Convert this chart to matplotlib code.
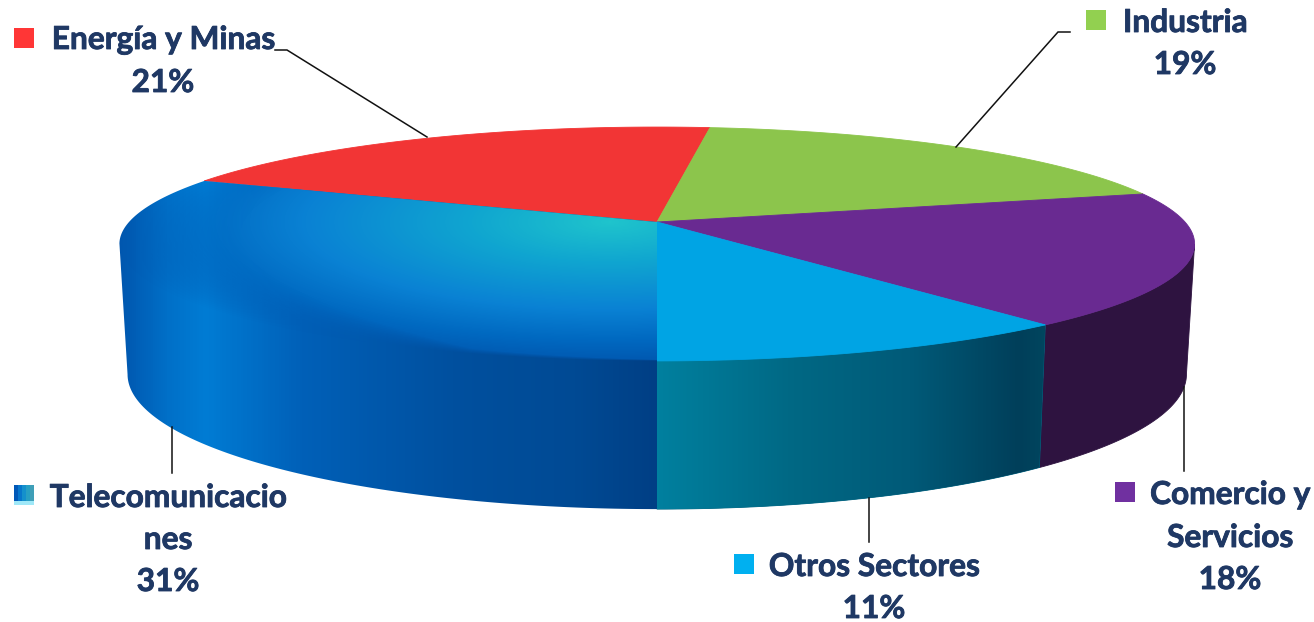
import numpy as np
import matplotlib
matplotlib.use("Agg")
import matplotlib.pyplot as plt
import matplotlib.patheffects as pe
from matplotlib.colors import LinearSegmentedColormap as LSC
from matplotlib.patches import Polygon, Rectangle

# Data, clockwise from the front of the pie (unrounded shares)
categories = ["Telecomunicaciones", "Energía y Minas", "Industria", "Comercio y Servicios", "Otros Sectores"]
values = [31.4, 20.5, 18.9, 18.4, 10.8]
label_lines = [["Telecomunicacio", "nes", "31%"], ["Energía y Minas", "21%"], ["Industria", "19%"],
               ["Comercio y", "Servicios", "18%"], ["Otros Sectores", "11%"]]
top_colors = ["#0a80d2", "#f23535", "#8cc54c", "#692a91", "#00a4e4"]
side_colors = ["#0060b8", "#a02020", "#5c8a30", "#2e1340", "#006482"]
key_colors = ["#0a80d2", "#ff3636", "#92d050", "#7030a0", "#00b0f0"]

W, H = 1314, 622
TEXT = "#1f3864"
K = 0.188
plt.rcParams["font.family"] = ["Lato", "DejaVu Sans"]
fig = plt.figure(figsize=(W / 100, H / 100), dpi=100)
ax = fig.add_axes([0, 0, 1, 1])


def project(theta, y0, R, Hy):
    """Perspective projection of the disc; theta runs clockwise from the front."""
    u, v = -np.sin(theta), np.cos(theta)
    s = 1 / (1 - K * v)
    return 657 + R * u * s, y0 + Hy * v * s


def top(theta):
    return project(theta, 222, 528, 112.8)


def bottom(theta):
    return project(theta, 349, 520, 130)


edges = np.cumsum([0] + values) / sum(values) * 2 * np.pi
arcs = [np.linspace(a, b, 240) for a, b in zip(edges[:-1], edges[1:])]
APEX = (657, 222)
sil = np.arccos(K)


def front_part(arc):
    """The part of an arc that faces the viewer, up to the silhouette of the disc."""
    return np.unique(np.r_[arc[(arc <= sil) | (arc >= 2 * np.pi - sil)],
                           [t for t in (sil, 2 * np.pi - sil) if arc[0] <= t <= arc[-1]]])


def gradient_fill(poly, data, cmap, zorder, alpha=None):
    ax.add_patch(poly)
    poly.set_visible(False)
    im = ax.imshow(data, extent=(0, W, H, 0), cmap=cmap, vmin=0, vmax=1, alpha=alpha,
                   aspect="auto", zorder=zorder, interpolation="bilinear")
    im.set_clip_path(poly)


def side_poly(arc, **kw):
    xt, yt = top(arc)
    xb, yb = bottom(arc)
    return Polygon(np.r_[np.c_[xt, yt], np.c_[xb, yb][::-1]], closed=True, **kw)


X, Y = np.meshgrid(np.arange(W) + .5, np.arange(H) + .5)

# Side walls (Telecomunicaciones is painted further down, together with its top face)
for i, arc in enumerate(arcs):
    part = front_part(arc)
    if part.size > 1 and i != 0:
        ax.add_patch(side_poly(part, fc=side_colors[i], ec=side_colors[i], lw=.6, zorder=2))

otros_side = LSC.from_list("os", [(0, "#00809f"), (.35, "#006884"), (.65, "#005a78"), (.93, "#003f5a"), (1, "#00465f")])
gradient_fill(side_poly(front_part(arcs[4])), (X - 657) / (1047 - 657), otros_side, 2.1)

# Top faces
for i, arc in enumerate(arcs):
    if i != 0:
        xt, yt = top(arc)
        ax.add_patch(Polygon(np.r_[[APEX], np.c_[xt, yt]], closed=True, fc=top_colors[i], ec=top_colors[i], lw=.6, zorder=3))

# Telecomunicaciones: one wall gradient under wall and top, top gradient fading into it at the left rim
tele_side = LSC.from_list("ts", [(0, "#0056ae"), (.09, "#0070c8"), (.16, "#007cd4"), (.34, "#0060b8"),
                                 (.62, "#00509f"), (.85, "#004a94"), (1, "#003f85")])
a0 = arcs[0]
back = a0[a0 >= sil][::-1]
front = np.r_[sil, a0[a0 < sil][::-1]]
xt0, yt0 = top(back)
xb0, yb0 = bottom(front)
union_outline = np.r_[[APEX], np.c_[xt0, yt0], np.c_[xb0, yb0]]
gradient_fill(Polygon(union_outline, closed=True), (X - 119) / (657 - 119), tele_side, 3.05)

xt1, yt1 = top(a0)
dy = Y - 222
v = dy / (112.8 + K * dy)
u = (X - 657) * (1 - K * v) / 528
rim = np.sqrt(u ** 2 + v ** 2)
fade = np.interp(X, [119, 300, 470, 657], [.30, .18, .03, .008])
tele_alpha = np.clip((1 - rim) / fade, 0, 1)
tele_top = LSC.from_list("tt", [(0, "#1fc4cc"), (.28, "#10a6d0"), (.62, "#0a82d4"), (.85, "#0068c0"), (1, "#0058b0")])
d = np.sqrt(((X - 610) / 490) ** 2 + ((Y - 222) / 140) ** 2)
gradient_fill(Polygon(np.r_[[APEX], np.c_[xt1, yt1]], closed=True), np.clip(d, 0, 1), tele_top, 3.1, alpha=tele_alpha)

# Leader lines
leaders = [([172, 172], [427, 473]), ([275, 287, 427], [50, 50, 137]), ([1070, 1058, 956], [32, 32, 147]),
           ([1184, 1184], [387, 471]), ([869, 869], [498, 542])]
for xs, ys in leaders:
    ax.plot(xs, ys, color="#111111", lw=1.1, zorder=4, solid_joinstyle="miter")

# Labels
centers = [168, 163, 1185, 1230, 874]
baselines = [[507, 549, 591], [49, 92], [32, 74], [504, 547, 589], [576, 618]]
for lines, cx, bases in zip(label_lines, centers, baselines):
    for line, b in zip(lines, bases):
        t = ax.text(cx, b, line, ha="center", va="baseline", fontsize=22.8, fontweight="bold", color=TEXT, zorder=5)
        t.set_path_effects([pe.withStroke(linewidth=.6, foreground=TEXT)])

# Keys
keys = [(14, 485), (14, 28), (1086, 10), (1115, 482), (734, 554)]
for i, (x, y) in enumerate(keys):
    ax.add_patch(Rectangle((x, y), 20, 20, fc=key_colors[i], ec="none", zorder=5))
key_grad = LSC.from_list("k", ["#0058b8", "#0a80d2", "#1fa0c8", "#3f9fb8"])
ax.imshow(np.linspace(0, 1, 5)[None, :].repeat(4, 0), extent=(14, 34, 501, 485), cmap=key_grad,
          aspect="auto", zorder=5.1, interpolation="nearest")
ax.add_patch(Rectangle((14, 501), 20, 4, fc="#9fe8f8", ec="none", zorder=5.1))

ax.set_xlim(0, W)
ax.set_ylim(H, 0)
ax.axis("off")
fig.savefig("out.png", dpi=100, facecolor="white")
